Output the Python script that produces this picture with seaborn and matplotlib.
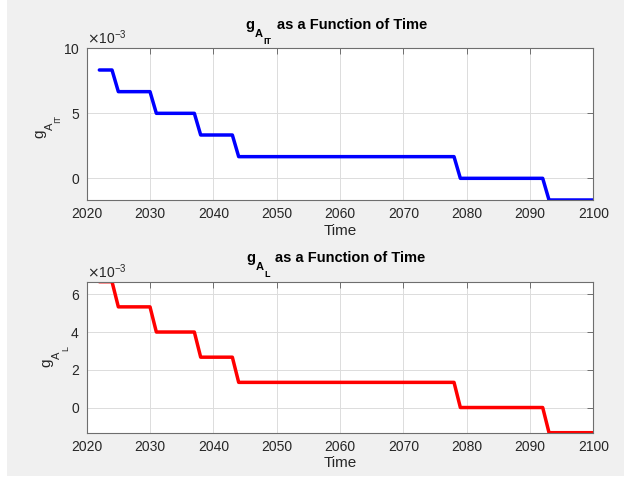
import numpy as np
import pandas as pd
import matplotlib
matplotlib.use("Agg")
import matplotlib.pyplot as plt
import matplotlib.ticker as mticker
from matplotlib.patches import Rectangle
import seaborn as sns

# Step-curve vertices (years, values)
years_it = [2022, 2024, 2025, 2030, 2031, 2037, 2038, 2043, 2044, 2078, 2079, 2092, 2093, 2100]
g_it = [8.333e-3, 8.333e-3, 6.667e-3, 6.667e-3, 5.0e-3, 5.0e-3, 3.333e-3, 3.333e-3,
        1.667e-3, 1.667e-3, 0.0, 0.0, -1.667e-3, -1.667e-3]
years_l = [2022, 2024, 2025, 2030, 2031, 2037, 2038, 2043, 2044, 2078, 2079, 2092, 2093, 2100]
g_l = [6.667e-3, 6.667e-3, 5.333e-3, 5.333e-3, 4.0e-3, 4.0e-3, 2.667e-3, 2.667e-3,
       1.333e-3, 1.333e-3, 0.0, 0.0, -1.333e-3, -1.333e-3]
x_ticks = [2020, 2030, 2040, 2050, 2060, 2070, 2080, 2090, 2100]
y_ticks_it = [0, 5e-3, 10e-3]
y_ticks_l = [0, 2e-3, 4e-3, 6e-3]

sns.set_style("white")
plt.rcParams['font.family'] = ['Liberation Sans', 'DejaVu Sans']

BG = '#f0f0f0'
TXT = '#262626'
fig = plt.figure(figsize=(6.24, 4.78), dpi=100, facecolor=BG)
fig.patches.append(Rectangle((0, 0), 7/624, 1, transform=fig.transFigure, facecolor='white', edgecolor='none', zorder=-1))
fig.patches.append(Rectangle((0, 0), 1, 2/478, transform=fig.transFigure, facecolor='white', edgecolor='none', zorder=-1))

ax1 = fig.add_axes([0.1389, 0.5816, 0.812, 0.3173])
ax2 = fig.add_axes([0.1389, 0.0948, 0.812, 0.3159])

df1 = pd.DataFrame({'Time': years_it, 'g': g_it})
df2 = pd.DataFrame({'Time': years_l, 'g': g_l})

sns.lineplot(data=df1, x='Time', y='g', ax=ax1, color='#0000ff', lw=2.5, sort=False, estimator=None)
sns.lineplot(data=df2, x='Time', y='g', ax=ax2, color='#ff0000', lw=2.5, sort=False, estimator=None)


def sub_title(ax, x0, yb, sub1, sub2, gap):
    kw = dict(color='black', weight='bold', ha='left', va='baseline')
    t0 = ax.text(x0, yb, 'g', transform=ax.transAxes, fontsize=10.5, **kw)
    t1 = ax.annotate(sub1, xy=(1, yb), xycoords=(t0, ax.transAxes), xytext=(0.5, -8),
                     textcoords='offset pixels', fontsize=8, **kw)
    t2 = ax.annotate(sub2, xy=(1, yb), xycoords=(t1, ax.transAxes), xytext=(0.5, -15),
                     textcoords='offset pixels', fontsize=6.5, **kw)
    ax.annotate('as a Function of Time', xy=(1, yb), xycoords=(t2, ax.transAxes),
                xytext=(gap, 0), textcoords='offset pixels', fontsize=10.5, **kw)


def sub_ylabel(ax, xb, y0, sub1, sub2):
    kw = dict(color=TXT, ha='left', va='baseline', rotation=90, rotation_mode='anchor')
    t0 = ax.text(xb, y0, 'g', transform=ax.transAxes, fontsize=11, **kw)
    t1 = ax.annotate(sub1, xy=(xb, 1), xycoords=(ax.transAxes, t0), xytext=(9.5, -0.5),
                     textcoords='offset pixels', fontsize=8, **kw)
    ax.annotate(sub2, xy=(xb, 1), xycoords=(ax.transAxes, t1), xytext=(17.5, 0),
                textcoords='offset pixels', fontsize=6.5, **kw)


configs = [
    (ax1, (-1.667e-3, 10e-3), y_ticks_it, 'IT', 0.3124, 1.125, 6, -0.0862, 0.409),
    (ax2, (-1.333e-3, 6.667e-3), y_ticks_l, 'L', 0.3144, 1.132, 5.5, -0.0715, 0.437),
]
for ax, ylim, yt, sub2, tx, ty, gap, lx, ly in configs:
    ax.set_facecolor('white')
    ax.set_xlim(2020, 2100)
    ax.set_ylim(*ylim)
    ax.set_xticks(x_ticks)
    ax.set_yticks(yt)
    fmt = mticker.ScalarFormatter(useMathText=True)
    fmt.set_powerlimits((-3, -3))
    ax.yaxis.set_major_formatter(fmt)
    ax.yaxis.get_offset_text().set_fontsize(10)
    ax.yaxis.get_offset_text().set_color(TXT)
    ax.grid(True, color='#dcdcdc', lw=0.7)
    ax.set_axisbelow(True)
    for s in ax.spines.values():
        s.set_visible(True)
        s.set_color('#6e6e6e')
        s.set_linewidth(0.8)
    ax.tick_params(direction='in', length=4, width=0.7, color='#6e6e6e',
                   labelsize=10, labelcolor=TXT, top=True, right=True,
                   labeltop=False, labelright=False, pad=5)
    ax.set_xlabel('Time', fontsize=11, color=TXT, labelpad=2)
    ax.set_ylabel('')
    sub_title(ax, tx, ty, 'A', sub2, gap)
    sub_ylabel(ax, lx, ly, 'A', sub2)

fig.savefig('out.png', dpi=100, facecolor=BG)
